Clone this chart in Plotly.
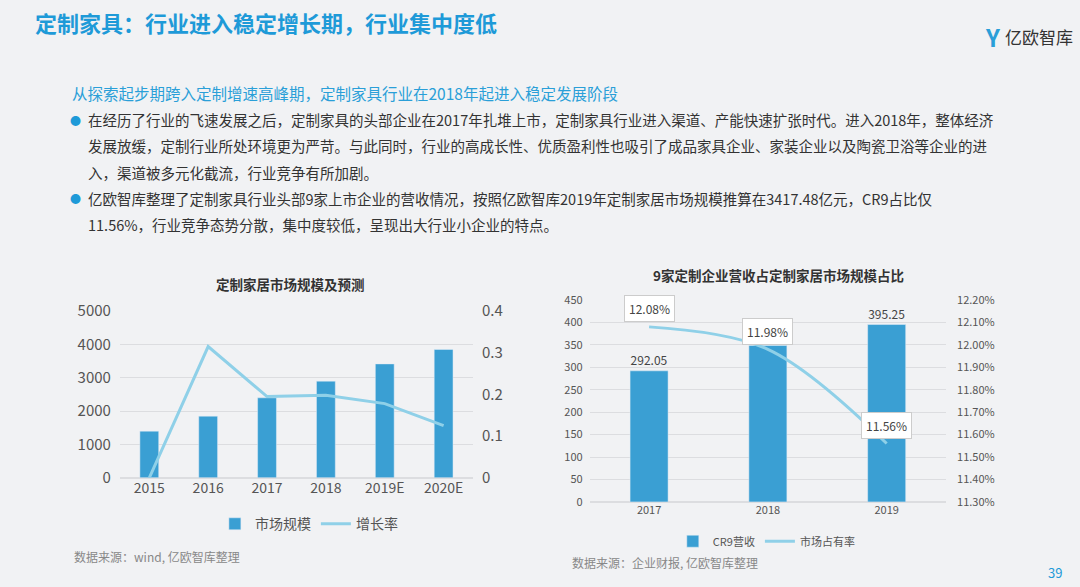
import plotly.graph_objects as go

years1 = ["2015", "2016", "2017", "2018", "2019E", "2020E"]
market = [1400, 1850, 2400, 2900, 3417, 3850]
growth = [0.0, 0.315, 0.195, 0.198, 0.178, 0.125]

years2 = ["2017", "2018", "2019"]
cr9 = [292.05, 348.5, 395.25]
share = [12.08, 11.98, 11.56]
share_lbl = ["12.08%", "11.98%", "11.56%"]

BAR = "#3a9fd3"
LINE = "#8fd0e8"
FONT = "Noto Sans CJK SC"

fig = go.Figure()
fig.add_bar(x=years1, y=market, marker_color=BAR, width=0.32, name="市场规模", xaxis="x", yaxis="y", legend="legend")
fig.add_scatter(x=years1, y=growth, mode="lines", line=dict(color=LINE, width=3), name="增长率", xaxis="x", yaxis="y2", legend="legend")
fig.add_bar(x=years2, y=cr9, marker_color=BAR, width=0.32, name="CR9营收", xaxis="x2", yaxis="y3", legend="legend2",
            text=["292.05", "", "395.25"], textposition="outside", textfont=dict(size=12, color="#444"), cliponaxis=False)
fig.add_scatter(x=years2, y=share, mode="lines", line=dict(color=LINE, width=3, shape="spline"), name="市场占有率",
                xaxis="x2", yaxis="y4", legend="legend2")

grid = "#dcdde0"
fig.update_layout(
    width=1080, height=587, margin=dict(l=0, r=0, t=0, b=0, autoexpand=False),
    paper_bgcolor="#f1f2f4", plot_bgcolor="rgba(0,0,0,0)",
    font=dict(family=FONT, color="#555"),
    xaxis=dict(domain=[0.111, 0.438], anchor="y", type="category", showgrid=False, tickfont=dict(size=14, color="#555"),
               ticks="", showline=False, automargin=False),
    yaxis=dict(domain=[0.186, 0.470], range=[0, 5000], dtick=1000, gridcolor=grid, zeroline=True, zerolinecolor=grid,
               tickfont=dict(size=15, color="#555"), anchor="x", automargin=False, ticklabelstandoff=8),
    yaxis2=dict(overlaying="y", side="right", range=[0, 0.4], dtick=0.1, showgrid=False, zeroline=False,
                tickfont=dict(size=15, color="#555"), anchor="x", tickformat=".1~f", automargin=False, ticklabelstandoff=8),
    xaxis2=dict(domain=[0.546, 0.876], anchor="y3", type="category", range=[-0.5, 2.5], showgrid=False,
                tickfont=dict(size=11, color="#555"), ticks="", automargin=False),
    yaxis3=dict(domain=[0.145, 0.489], range=[0, 450], dtick=50, gridcolor=grid, zeroline=True, zerolinecolor=grid,
                tickfont=dict(size=11, color="#555"), anchor="x2", automargin=False, ticklabelstandoff=6),
    yaxis4=dict(overlaying="y3", side="right", range=[11.3, 12.2], dtick=0.1, showgrid=False, zeroline=False,
                tickfont=dict(size=11, color="#555"), anchor="x2", tickformat=".2f", ticksuffix="%", automargin=False,
                ticklabelstandoff=10),
    legend=dict(orientation="h", x=0.286, xanchor="center", y=0.107, yanchor="middle", font=dict(size=14, color="#555"),
                bgcolor="rgba(0,0,0,0)"),
    legend2=dict(orientation="h", x=0.71, xanchor="center", y=0.078, yanchor="middle", font=dict(size=11, color="#555"),
                 bgcolor="rgba(0,0,0,0)"),
)

anns = [
    dict(text="<b>定制家具：行业进入稳定增长期，行业集中度低</b>", x=33, y=22, size=22, color="#1e9ad8"),
    dict(text="从探索起步期跨入定制增速高峰期，定制家具行业在2018年起进入稳定发展阶段", x=70, y=93, size=15.5, color="#2a9fd8"),
    dict(text="在经历了行业的飞速发展之后，定制家具的头部企业在2017年扎堆上市，定制家具行业进入渠道、产能快速扩张时代。进入2018年，整体经济", x=86, y=120, size=14.5, color="#333"),
    dict(text="发展放缓，定制行业所处环境更为严苛。与此同时，行业的高成长性、优质盈利性也吸引了成品家具企业、家装企业以及陶瓷卫浴等企业的进", x=86, y=146, size=14.5, color="#333"),
    dict(text="入，渠道被多元化截流，行业竞争有所加剧。", x=86, y=172, size=14.5, color="#333"),
    dict(text="亿欧智库整理了定制家具行业头部9家上市企业的营收情况，按照亿欧智库2019年定制家居市场规模推算在3417.48亿元，CR9占比仅", x=86, y=198, size=14.5, color="#333"),
    dict(text="11.56%，行业竞争态势分散，集中度较低，呈现出大行业小企业的特点。", x=86, y=224, size=14.5, color="#333"),
    dict(text="●", x=68, y=120, size=11, color="#1e9ad8"),
    dict(text="●", x=68, y=198, size=11, color="#1e9ad8"),
    dict(text="<b>定制家居市场规模及预测</b>", x=214, y=284, size=13.5, color="#333"),
    dict(text="<b>9家定制企业营收占定制家居市场规模占比</b>", x=651, y=275, size=13.5, color="#333"),
    dict(text="数据来源：wind, 亿欧智库整理", x=72, y=556, size=12, color="#888"),
    dict(text="数据来源：企业财报, 亿欧智库整理", x=570, y=562, size=12, color="#888"),
    dict(text="39", x=1046, y=572, size=13, color="#1e9ad8"),
    dict(text="亿欧智库", x=1003, y=37, size=17, color="#333"),
    dict(text="<b>Y</b>", x=983, y=37, size=24, color="#2a9fd8"),
]
for a in anns:
    fig.add_annotation(text=a["text"], x=a["x"] / 1080, y=1 - a["y"] / 587, xref="paper", yref="paper",
                       xanchor="left", yanchor="middle", showarrow=False,
                       font=dict(size=a["size"], color=a["color"], family=FONT))

for i, (yv, t) in enumerate(zip(share, share_lbl)):
    fig.add_annotation(x=i, y=yv, xref="x2", yref="y4", text=t, showarrow=False, yshift=18,
                       bgcolor="white", bordercolor="#ccc", borderwidth=1, borderpad=4,
                       font=dict(size=12, color="#444"))

fig.write_html("out.html", config={"displayModeBar": False},
               post_script="document.body.style.margin='0';document.body.style.overflow='hidden';")
